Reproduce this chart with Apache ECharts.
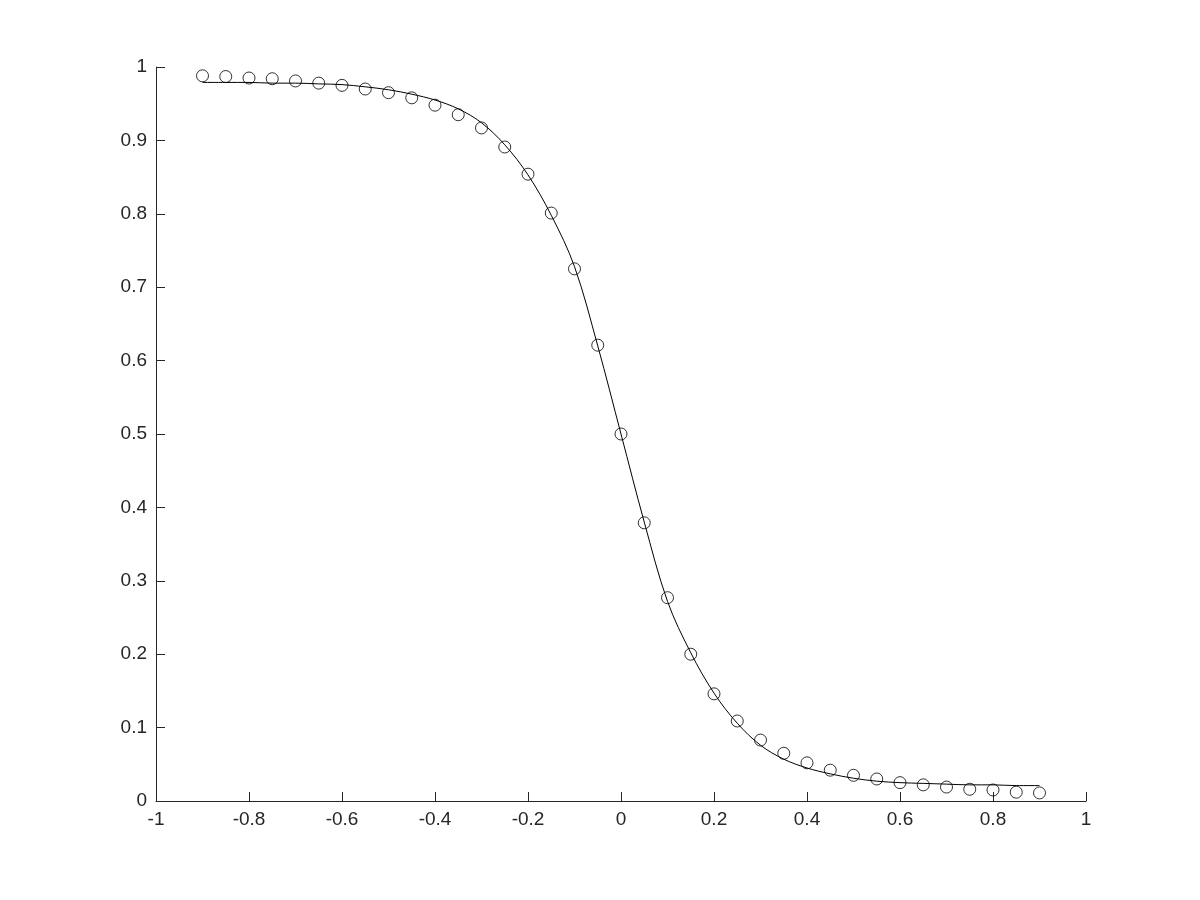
<!DOCTYPE html>
<html>
<head>
<meta charset="utf-8">
<script src="https://cdn.jsdelivr.net/npm/echarts@6/dist/echarts.min.js"></script>
<style>
  html, body { margin: 0; padding: 0; background: #fff; }
  #chart { width: 1200px; height: 900px; }
</style>
</head>
<body>
<div id="chart"></div>
<script>
// measured points (circles)
const xs = [-0.9, -0.85, -0.8, -0.75, -0.7, -0.65, -0.6, -0.55, -0.5, -0.45, -0.4, -0.35, -0.3, -0.25, -0.2, -0.15, -0.1, -0.05, 0,
  0.05, 0.1, 0.15, 0.2, 0.25, 0.3, 0.35, 0.4, 0.45, 0.5, 0.55, 0.6, 0.65, 0.7, 0.75, 0.8, 0.85, 0.9];
const measured = [0.988, 0.987, 0.985, 0.984, 0.981, 0.978, 0.975, 0.970, 0.965, 0.958, 0.948, 0.935, 0.917, 0.891, 0.854, 0.801, 0.725, 0.621, 0.500,
  0.379, 0.277, 0.200, 0.146, 0.109, 0.083, 0.065, 0.052, 0.042, 0.035, 0.030, 0.025, 0.022, 0.019, 0.016, 0.015, 0.012, 0.011];
const fitted = [0.979, 0.979, 0.979, 0.978, 0.978, 0.977, 0.976, 0.973, 0.969, 0.963, 0.955, 0.943, 0.924, 0.894, 0.853, 0.798, 0.728, 0.620, 0.500,
  0.380, 0.272, 0.202, 0.147, 0.106, 0.076, 0.057, 0.045, 0.037, 0.031, 0.027, 0.025, 0.024, 0.023, 0.022, 0.022, 0.021, 0.021];

const ink = '#262626';
const font = 'Liberation Sans, Helvetica, Arial, sans-serif';

const chart = echarts.init(document.getElementById('chart'));

const axisCommon = {
  axisLine: { show: true, onZero: false, lineStyle: { color: ink, width: 1 } },
  axisTick: { show: true, inside: true, length: 9, lineStyle: { color: ink, width: 1 } },
  axisLabel: { color: ink, fontSize: 19, fontFamily: font },
  splitLine: { show: false }
};

chart.setOption({
  animation: false,
  backgroundColor: '#fff',
  grid: { left: 156, right: 114, top: 67, bottom: 99, containLabel: false },
  xAxis: Object.assign({
    type: 'value', min: -1, max: 1, interval: 0.2
  }, axisCommon, { axisLabel: Object.assign({}, axisCommon.axisLabel, { margin: 9 }) }),
  yAxis: Object.assign({
    type: 'value', min: 0, max: 1, interval: 0.1
  }, axisCommon, { axisLabel: Object.assign({}, axisCommon.axisLabel, { margin: 9 }) }),
  series: [
    {
      name: 'fit',
      type: 'line',
      data: xs.map((x, i) => [x, fitted[i]]),
      showSymbol: false,
      smooth: 0.35,
      lineStyle: { color: '#000', width: 1 },
      z: 2
    },
    {
      name: 'data',
      type: 'scatter',
      data: xs.map((x, i) => [x, measured[i]]),
      symbol: 'circle',
      symbolSize: 12,
      itemStyle: { color: 'rgba(0,0,0,0)', borderColor: '#000', borderWidth: 1 },
      z: 3
    }
  ]
});

window.addEventListener('resize', () => chart.resize());
</script>
</body>
</html>
